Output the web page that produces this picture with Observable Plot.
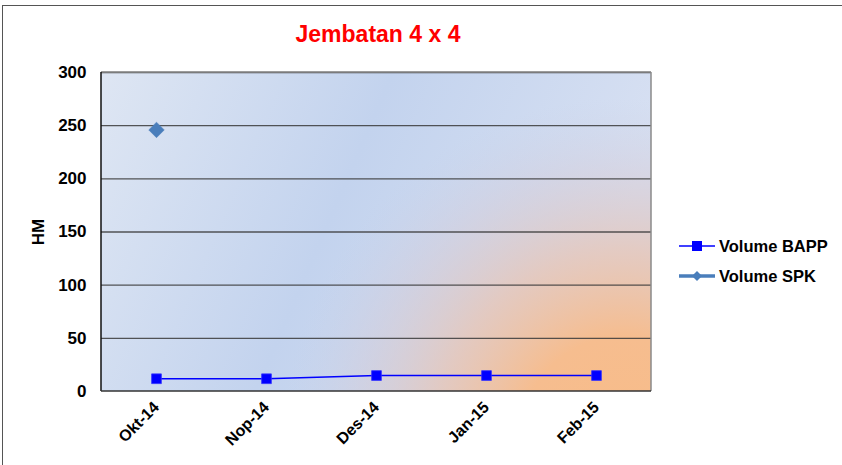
<!DOCTYPE html>
<html>
<head>
<meta charset="utf-8">
<script src="https://cdn.jsdelivr.net/npm/d3@7"></script>
<script src="https://cdn.jsdelivr.net/npm/@observablehq/plot@0.6"></script>
<style>
  html, body { margin: 0; padding: 0; background: #fff; }
  body { width: 842px; height: 465px; position: relative; overflow: hidden; font-family: "Liberation Sans", Arial, sans-serif; }
  #border { position: absolute; left: 2px; top: 5px; right: -10px; bottom: -10px; border-top: 1.5px solid #555; border-left: 1.5px solid #555; }
  #chart { position: absolute; left: 0; top: 0; }
  #title { position: absolute; left: 0; width: 756px; top: 21px; text-align: center; color: #ff0000; font-weight: bold; font-size: 23px; }
  #legend { position: absolute; left: 679px; top: 231px; font-weight: bold; font-size: 16.5px; color: #000; }
  .row { display: flex; align-items: center; height: 30px; }
  .row svg { margin-right: 4px; }
</style>
</head>
<body>
<div id="border"></div>
<div id="chart"></div>
<div id="title">Jembatan 4 x 4</div>
<div id="legend"></div>
<script>
const months = ["Okt-14", "Nop-14", "Des-14", "Jan-15", "Feb-15"];
const volumeBAPP = [12, 12, 15, 15, 15];
const volumeSPK = [246, null, null, null, null];
const yTicks = [0, 50, 100, 150, 200, 250, 300];
const seriesNames = ["Volume BAPP", "Volume SPK"];
const seriesColors = ["#0000ff", "#4a7ebb"];

const bappData = months.map((m, i) => ({month: m, value: volumeBAPP[i]}));
const spkData = months.map((m, i) => ({month: m, value: volumeSPK[i]})).filter(d => d.value != null);

const ns = "http://www.w3.org/2000/svg";
function el(name, attrs) {
  const e = document.createElementNS(ns, name);
  for (const k in attrs) e.setAttribute(k, attrs[k]);
  return e;
}

// background: gradient fill of plot area
function background(index, scales, values, dim) {
  const g = el("g", {});
  const x0 = dim.marginLeft, y0 = dim.marginTop;
  const w = dim.width - dim.marginLeft - dim.marginRight;
  const h = dim.height - dim.marginTop - dim.marginBottom;
  const defs = el("defs", {});
  const lin = el("linearGradient", {id: "bgLin", x1: "0", y1: "0", x2: "1", y2: "0.25"});
  [["0", "#dee6f3"], ["0.5", "#c3d3ee"], ["1", "#d7e0f2"]].forEach(([o, c]) => lin.appendChild(el("stop", {offset: o, "stop-color": c})));
  const cx = x0 + w * 0.95, cy = y0 + h * 1.15;
  const rad = el("radialGradient", {id: "bgRad", gradientUnits: "userSpaceOnUse", cx, cy, r: w * 0.62, fx: cx, fy: cy});
  [["0", "#f8bc88", 1], ["0.3", "#f6bd8f", 1], ["0.55", "#e7c5b6", 0.8], ["0.8", "#d5cad5", 0.4], ["1", "#c8cfe6", 0]].forEach(([o, c, a]) => rad.appendChild(el("stop", {offset: o, "stop-color": c, "stop-opacity": a})));
  defs.appendChild(lin); defs.appendChild(rad);
  g.appendChild(defs);
  g.appendChild(el("rect", {x: x0, y: y0, width: w, height: h, fill: "url(#bgLin)"}));
  g.appendChild(el("rect", {x: x0, y: y0, width: w, height: h, fill: "url(#bgRad)"}));
  return g;
}

// plot area border: grey top/right, dark left/bottom
function border(index, scales, values, dim) {
  const g = el("g", {});
  const x0 = dim.marginLeft, y0 = dim.marginTop;
  const x1 = dim.width - dim.marginRight, y1 = dim.height - dim.marginBottom;
  g.appendChild(el("line", {x1: x0, y1: y0, x2: x1, y2: y0, stroke: "#8a8a8a", "stroke-width": 1.5}));
  g.appendChild(el("line", {x1: x1, y1: y0, x2: x1, y2: y1, stroke: "#8a8a8a", "stroke-width": 1.5}));
  g.appendChild(el("line", {x1: x0, y1: y0, x2: x0, y2: y1, stroke: "#111", "stroke-width": 1.5}));
  g.appendChild(el("line", {x1: x0, y1: y1, x2: x1, y2: y1, stroke: "#333", "stroke-width": 1.5}));
  return g;
}

const chart = Plot.plot({
  width: 842,
  height: 465,
  marginLeft: 101,
  marginRight: 191,
  marginTop: 72,
  marginBottom: 74,
  style: {fontFamily: "Liberation Sans, Arial, sans-serif", background: "transparent", overflow: "visible"},
  x: {type: "point", domain: months, padding: 0.5},
  y: {domain: [0, 300]},
  marks: [
    background,
    Plot.gridY(yTicks.filter(t => t > 0), {stroke: "#3a3a3a", strokeOpacity: 0.85, strokeWidth: 1.3}),
    border,
    Plot.axisY(yTicks, {tickSize: 0, tickPadding: 15, fontSize: 17, fontWeight: "bold", fill: "#000",
      label: "HM", labelAnchor: "center", labelArrow: "none", labelOffset: 70}),
    Plot.axisX({tickSize: 0, tickPadding: 13, tickRotate: -45, fontSize: 16, fontWeight: "bold", fill: "#000", label: null}),
    Plot.line(bappData, {x: "month", y: "value", stroke: seriesColors[0], strokeWidth: 1.6}),
    Plot.dot(bappData, {x: "month", y: "value", symbol: "square", r: 5.5, fill: seriesColors[0], stroke: "#3333ff", strokeWidth: 0.8}),
    Plot.dot(spkData, {x: "month", y: "value", symbol: "diamond2", r: 7, fill: seriesColors[1], stroke: seriesColors[1], strokeWidth: 0.5})
  ]
});
document.getElementById("chart").appendChild(chart);

// style axis label
chart.querySelectorAll("[aria-label='y-axis label'] text").forEach(t => {
  t.setAttribute("font-size", 17);
  t.setAttribute("font-weight", "bold");
  t.setAttribute("fill", "#000");
});

// legend
const legend = document.getElementById("legend");
seriesNames.forEach((name, i) => {
  const row = document.createElement("div");
  row.className = "row";
  const sw = el("svg", {width: 36, height: 16});
  if (i === 0) {
    sw.appendChild(el("line", {x1: 0, y1: 8, x2: 36, y2: 8, stroke: seriesColors[0], "stroke-width": 1.6}));
    sw.appendChild(el("rect", {x: 13, y: 3, width: 10, height: 10, fill: seriesColors[0]}));
  } else {
    sw.appendChild(el("line", {x1: 0, y1: 8, x2: 36, y2: 8, stroke: seriesColors[1], "stroke-width": 3.5}));
    sw.appendChild(el("path", {d: "M18,3L23,8L18,13L13,8Z", fill: seriesColors[1]}));
  }
  row.appendChild(sw);
  const span = document.createElement("span");
  span.textContent = name;
  row.appendChild(span);
  legend.appendChild(row);
});
</script>
</body>
</html>
